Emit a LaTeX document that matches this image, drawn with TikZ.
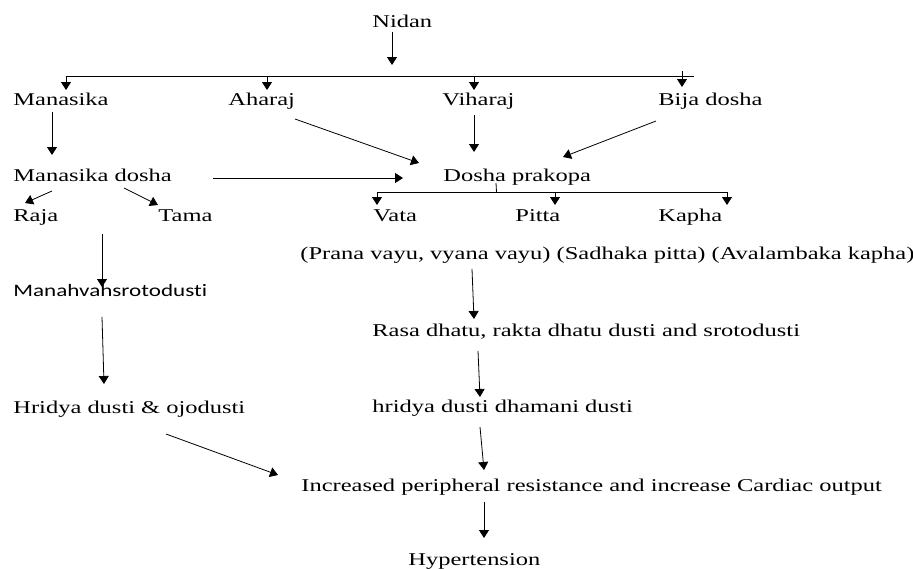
\documentclass[tikz,border=0pt]{standalone}
\usepackage{fontspec}
\setmainfont[FakeStretch=1.36]{Liberation Serif}
\newfontfamily\widesans[FakeStretch=1.32,Ligatures=NoCommon]{Carlito}
\usepackage{tikz}
\usetikzlibrary{arrows.meta}

\begin{document}
\begin{tikzpicture}[x=1pt,y=-1pt,line width=0.8pt,
  arr/.style={-{Triangle[width=10pt,length=8pt]}},
  txt/.style={anchor=base west,inner sep=0pt,font=\fontsize{18}{20}\selectfont},
  stxt/.style={anchor=base west,inner sep=0pt,font=\widesans\fontsize{17.5}{19}\selectfont}]
  \useasboundingbox (0,0) rectangle (913,568);
  % causes
  \node[txt] (nidan) at (372,27.5) {Nidan};
  \node[txt] (manasika) at (13,105) {Manasika};
  \node[txt] (aharaj) at (228,105) {Aharaj};
  \node[txt] (viharaj) at (442,105) {Viharaj};
  \node[txt] (bija) at (658,105) {Bija dosha};
  \node[txt] (msdosha) at (13,181.5) {Manasika dosha};
  \node[txt] (prakopa) at (443,181.5) {Dosha prakopa};
  \node[txt] (raja) at (13,221.5) {Raja};
  \node[txt] (tama) at (158,221.5) {Tama};
  \node[txt] (vata) at (373,221) {Vata};
  \node[txt] (pitta) at (515,221) {Pitta};
  \node[txt] (kapha) at (658,221) {Kapha};
  % pathway
  \node[stxt] (manovaha) at (13,296.5) {Manahvahsrotodusti};
  \node[txt] (subtypes) at (300,259) {(Prana vayu, vyana vayu) (Sadhaka pitta) (Avalambaka kapha)};
  \node[txt] (rasa) at (372,336) {Rasa dhatu, rakta dhatu dusti and srotodusti};
  \node[txt] (ojas) at (13,413) {Hridya dusti \& ojodusti};
  \node[txt] (dhamani) at (372,412.5) {hridya dusti dhamani dusti};
  \node[txt] (resist) at (301,491) {Increased peripheral resistance and increase Cardiac output};
  \node[txt] (htn) at (408,565.5) {Hypertension};

  % top bus
  \draw[arr] ([shift={(20,4.5)}]nidan.base west) -- ([shift={(20,37.5)}]nidan.base west);
  \draw ([shift={(53,-29)}]manasika.base west) -- ([shift={(36,-29)}]bija.base west);
  \foreach \n/\dx in {manasika/53,aharaj/39,viharaj/32}
    \draw[arr] ([shift={(\dx,-29)}]\n.base west) -- ([shift={(\dx,-15)}]\n.base west);
  \draw[arr] ([shift={(24,-34)}]bija.base west) -- ([shift={(24,-18)}]bija.base west);

  \draw[arr] ([shift={(39,7)}]manasika.base west) -- ([shift={(39,-26.5)}]msdosha.base west);
  \draw[arr] ([shift={(200,-3.5)}]msdosha.base west) -- ([shift={(-40,-3.5)}]prakopa.base west);
  \draw[arr] ([shift={(67,14)}]aharaj.base west) -- ([shift={(-24,-18.5)}]prakopa.base west);
  \draw[arr] ([shift={(32,10)}]viharaj.base west) -- ([shift={(31,-29.5)}]prakopa.base west);
  \draw[arr] ([shift={(-2,16)}]bija.base west) -- ([shift={(120,-24.5)}]prakopa.base west);

  % dosha split
  \draw ([shift={(53,1.5)}]prakopa.base west) -- ([shift={(53.5,10.5)}]prakopa.base west);
  \draw ([shift={(4,-29)}]vata.base west) -- ([shift={(69,-29)}]kapha.base west);
  \foreach \n/\dx in {vata/4,pitta/40,kapha/69}
    \draw[arr] ([shift={(\dx,-29)}]\n.base west) -- ([shift={(\dx,-16)}]\n.base west);

  \draw[arr] ([shift={(39,9.5)}]msdosha.base west) -- ([shift={(12,-18.5)}]raja.base west);
  \draw[arr] ([shift={(111,6.5)}]msdosha.base west) -- ([shift={(0,-16.5)}]tama.base west);

  % left column
  \draw[arr] ([shift={(89,12.5)}]raja.base west) -- ([shift={(89,-9.5)}]manovaha.base west);
  \draw[arr] ([shift={(89,20.5)}]manovaha.base west) -- ([shift={(91,-29)}]ojas.base west);
  \draw[arr] ([shift={(153,21)}]ojas.base west) -- ([shift={(-23,-16)}]resist.base west);

  % right column
  \draw[arr] ([shift={(172,10)}]subtypes.base west) -- ([shift={(102,-17)}]rasa.base west);
  \draw[arr] ([shift={(106,15)}]rasa.base west) -- ([shift={(108,-15.5)}]dhamani.base west);
  \draw[arr] ([shift={(108,14.5)}]dhamani.base west) -- ([shift={(183,-21)}]resist.base west);
  \draw[arr] ([shift={(183,11)}]resist.base west) -- ([shift={(76,-27.5)}]htn.base west);
\end{tikzpicture}
\end{document}
